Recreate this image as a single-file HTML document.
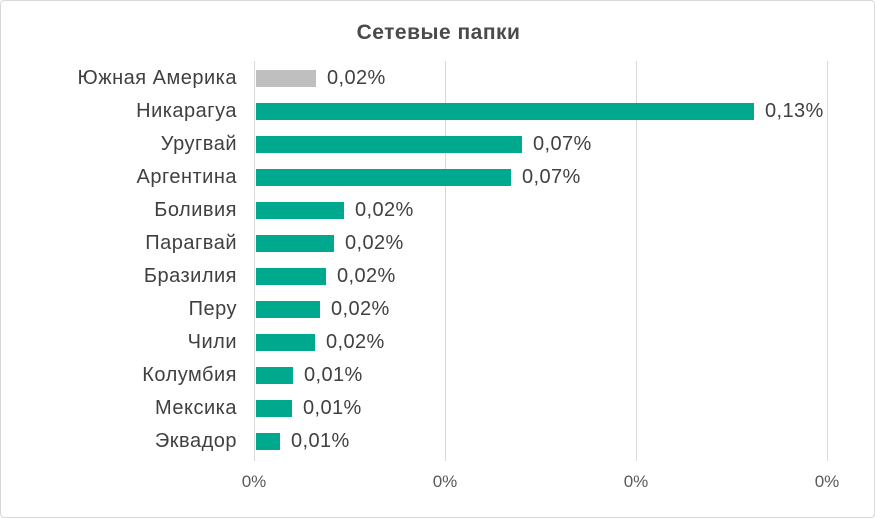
<!DOCTYPE html>
<html><head><meta charset="utf-8"><style>
body{margin:0;background:#fff;}
#c{position:relative;width:873px;height:516px;border:1px solid #d9d9d9;border-radius:4px;font-family:"Liberation Sans",sans-serif;color:#404040;overflow:hidden;}
.t{position:absolute;top:20px;left:0;width:875px;text-align:center;font-weight:bold;font-size:21px;letter-spacing:0.5px;color:#4a4a4a;}
.g{position:absolute;top:60px;height:400px;width:1px;background:#d9d9d9;}
.l{position:absolute;right:637px;font-size:20px;letter-spacing:0.5px;white-space:nowrap;line-height:20px;}
.b{position:absolute;left:255px;height:17px;background:#00a88e;}
.v{position:absolute;font-size:20px;letter-spacing:0.4px;line-height:20px;}
.x{position:absolute;top:471px;font-size:17px;width:40px;text-align:center;color:#595959;}
</style></head><body><div id="c">
<div class="t">Сетевые папки</div>
<div class="g" style="left:253px"></div>
<div class="g" style="left:444px"></div>
<div class="g" style="left:635px"></div>
<div class="g" style="left:826px"></div>
<div class="x" style="left:233px">0%</div>
<div class="x" style="left:424px">0%</div>
<div class="x" style="left:615px">0%</div>
<div class="x" style="left:806px">0%</div>
</div>
<script>
var d=[["Южная Америка",315,"0,02%"],["Никарагуа",753,"0,13%"],["Уругвай",521,"0,07%"],["Аргентина",510,"0,07%"],["Боливия",343,"0,02%"],["Парагвай",333,"0,02%"],["Бразилия",325,"0,02%"],["Перу",319,"0,02%"],["Чили",314,"0,02%"],["Колумбия",292,"0,01%"],["Мексика",291,"0,01%"],["Эквадор",279,"0,01%"]];
var h="";d.forEach(function(r,i){var y=78+i*33;
h+='<div class="l" style="top:'+(y-11)+'px">'+r[0]+'</div>';
h+='<div class="b" style="top:'+(y-9)+'px;width:'+(r[1]-255)+'px;'+(i==0?'background:#bfbfbf':'')+'"></div>';
h+='<div class="v" style="top:'+(y-11)+'px;left:'+(r[1]+11)+'px">'+r[2]+'</div>';});
document.getElementById("c").insertAdjacentHTML("beforeend",h);
</script>
</body></html>
